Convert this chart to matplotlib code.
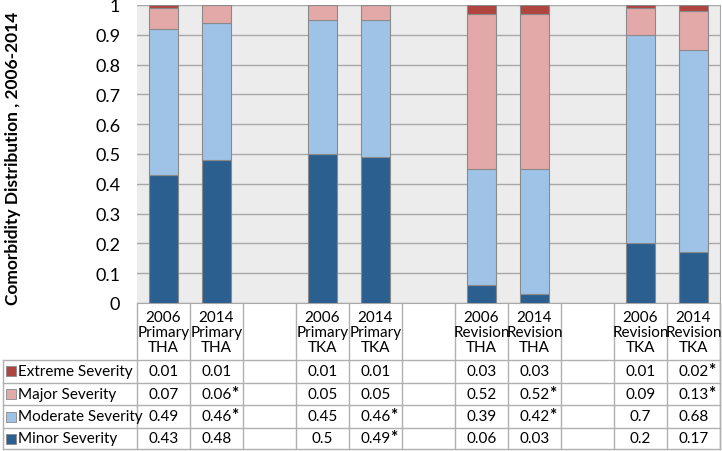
import matplotlib
matplotlib.use('Agg')
import numpy as np
import matplotlib.pyplot as plt

plt.rcParams['font.family'] = ['Lato', 'DejaVu Sans']

# columns (blank strings are the spacer columns)
categories = ['2006\nPrimary\nTHA', '2014\nPrimary\nTHA', '',
              '2006\nPrimary\nTKA', '2014\nPrimary\nTKA', '',
              '2006\nRevision\nTHA', '2014\nRevision\nTHA', '',
              '2006\nRevision\nTKA', '2014\nRevision\nTKA']

series = ['Extreme Severity', 'Major Severity', 'Moderate Severity', 'Minor Severity']
extreme = [0.01, 0.01, None, 0.01, 0.01, None, 0.03, 0.03, None, 0.01, 0.02]
major = [0.07, 0.06, None, 0.05, 0.05, None, 0.52, 0.52, None, 0.09, 0.13]
moderate = [0.49, 0.46, None, 0.45, 0.46, None, 0.39, 0.42, None, 0.7, 0.68]
minor = [0.43, 0.48, None, 0.5, 0.49, None, 0.06, 0.03, None, 0.2, 0.17]

# table labels as printed (with significance stars)
extreme_txt = ['0.01', '0.01', '', '0.01', '0.01', '', '0.03', '0.03', '', '0.01', '0.02*']
major_txt = ['0.07', '0.06*', '', '0.05', '0.05', '', '0.52', '0.52*', '', '0.09', '0.13*']
moderate_txt = ['0.49', '0.46*', '', '0.45', '0.46*', '', '0.39', '0.42*', '', '0.7', '0.68']
minor_txt = ['0.43', '0.48', '', '0.5', '0.49*', '', '0.06', '0.03', '', '0.2', '0.17']

colors = {'Extreme Severity': '#B0443F', 'Major Severity': '#E3A9A8',
          'Moderate Severity': '#9FC3E7', 'Minor Severity': '#2B5F8F'}

W, H = 722, 452
fig = plt.figure(figsize=(W / 100, H / 100), dpi=100)

ax_l, ax_r, ax_t, ax_b = 137, 720, 6, 304
ax = fig.add_axes([ax_l / W, 1 - ax_b / H, (ax_r - ax_l) / W, (ax_b - ax_t) / H])
ax.set_facecolor('#ECECEC')

x = np.arange(len(categories))
used = np.array([v is not None for v in minor])
bottom = np.zeros(used.sum())
stack = [('Minor Severity', minor), ('Moderate Severity', moderate),
         ('Major Severity', major), ('Extreme Severity', extreme)]
for name, vals in stack:
    v = np.array([a for a in vals if a is not None], dtype=float)
    ax.bar(x[used], v, 0.53, bottom=bottom, color=colors[name], edgecolor='#8A8A8A',
           linewidth=0.8, zorder=3)
    bottom += v

ax.set_xlim(-0.5, len(categories) - 0.5)
ax.set_ylim(0, 1)
ax.set_yticks(np.arange(0, 1.01, 0.1))
ax.set_yticklabels(['0', '0.1', '0.2', '0.3', '0.4', '0.5', '0.6', '0.7', '0.8', '0.9', '1'],
                   fontsize=13)
ax.tick_params(axis='y', length=0, pad=12)
ax.tick_params(axis='x', length=0, labelbottom=False)
ax.grid(axis='y', color='#A8A8A8', linewidth=1.0, zorder=0)
for s in ['top', 'left']:
    ax.spines[s].set_visible(False)
ax.spines['right'].set_color('#A8A8A8')
ax.spines['bottom'].set_color('#A8A8A8')
ax.set_ylabel('Comorbidity Distribution , 2006-2014', fontsize=12.5, fontweight='bold')
ax.yaxis.set_label_coords((21 - ax_l) / (ax_r - ax_l), 0.49)

# data table under the bars, sharing the column positions
tb_t, tb_b = 304, 450
tax = fig.add_axes([ax_l / W, 1 - tb_b / H, (ax_r - ax_l) / W, (tb_b - tb_t) / H])
tax.set_xlim(-0.5, len(categories) - 0.5)
tax.set_ylim(tb_b - tb_t, 0)
tax.axis('off')

line_c = '#B0B0B0'
unit = (ax_r - ax_l) / len(categories)
left_edge = -0.5 - (ax_l - 3) / unit
row_edges = [0, 57, 79.5, 102, 125, 146]
fs = 11

# header cells
for i, lab in enumerate(categories):
    tax.text(i, 29, lab, ha='center', va='center', fontsize=fs, linespacing=1.1)
for b in np.arange(-0.5, len(categories), 1.0):
    tax.plot([b, b], [0, row_edges[-1]], color=line_c, lw=1, clip_on=False)
tax.plot([len(categories) - 0.5] * 2, [0, row_edges[-1]], color=line_c, lw=1, clip_on=False)
tax.plot([left_edge, left_edge], [row_edges[1], row_edges[-1]], color=line_c, lw=1,
         clip_on=False)
for y in row_edges[1:]:
    tax.plot([left_edge, len(categories) - 0.5], [y, y], color=line_c, lw=1, clip_on=False)

rows = [extreme_txt, major_txt, moderate_txt, minor_txt]
for r, (name, txts) in enumerate(zip(series, rows)):
    yc = (row_edges[r + 1] + row_edges[r + 2]) / 2
    tax.scatter([left_edge + 0.15], [yc], marker='s', s=50, color=colors[name],
                edgecolor='#8A8A8A', linewidth=0.6, clip_on=False, zorder=3)
    tax.text(left_edge + 0.29, yc, name, ha='left', va='center', fontsize=fs)
    for i, t in enumerate(txts):
        if t.endswith('*'):
            tax.text(i, yc, t[:-1], ha='center', va='center', fontsize=fs)
            tax.text(i + 0.34, yc - 1, '*', ha='center', va='center', fontsize=12.5,
                     fontweight='bold')
        elif t:
            tax.text(i, yc, t, ha='center', va='center', fontsize=fs)

fig.savefig('out.png', dpi=100)
